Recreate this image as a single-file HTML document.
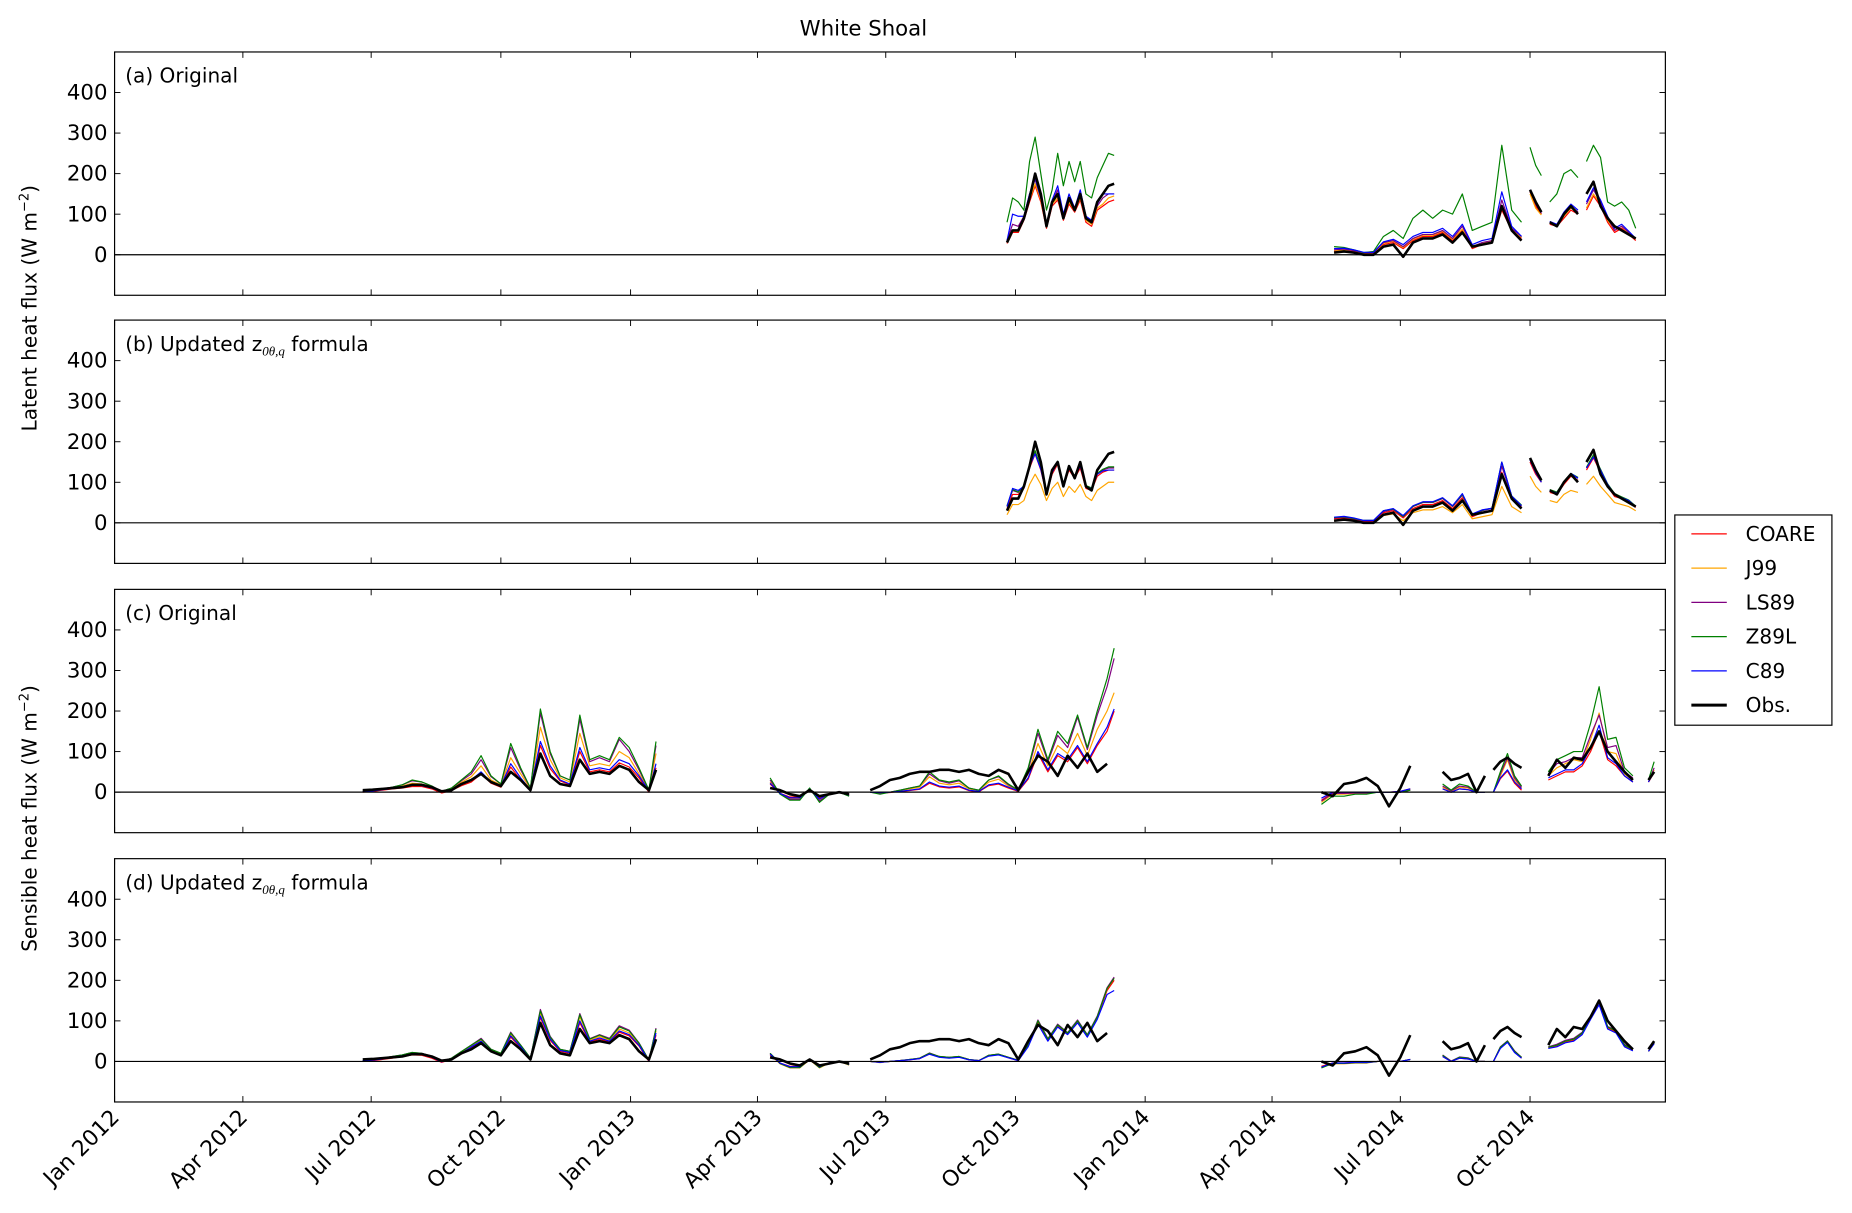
<!DOCTYPE html>
<html><head><meta charset="utf-8"><style>
html,body{margin:0;padding:0;background:#fff;}
svg{display:block;font-family:"DejaVu Sans","Liberation Sans",sans-serif;}
</style></head><body>
<svg id="chart" width="1852" height="1213" viewBox="0 0 1568 1027" xmlns="http://www.w3.org/2000/svg">
<text x="731" y="30" font-size="18" text-anchor="middle">White Shoal</text>
<text transform="translate(31,261) rotate(-90)" font-size="17" text-anchor="middle">Latent heat flux (W m<tspan font-size="11" dy="-7">−2</tspan><tspan dy="7">)</tspan></text>
<text transform="translate(31,693) rotate(-90)" font-size="17" text-anchor="middle">Sensible heat flux (W m<tspan font-size="11" dy="-7">−2</tspan><tspan dy="7">)</tspan></text>
<g id="panels"></g>
<g>
<rect x="1418" y="436" width="133" height="178" fill="#fff" stroke="#000" stroke-width="1"/>
<g id="legend-items"></g>
</g>
</svg>
<script>
const monthTickDays = [0,91,182,274,366,456,547,639,731,821,912,1004];
const monthTickLabels = ["Jan 2012","Apr 2012","Jul 2012","Oct 2012","Jan 2013","Apr 2013","Jul 2013","Oct 2013","Jan 2014","Apr 2014","Jul 2014","Oct 2014"];
const yTicks = [0,100,200,300,400];
const seriesNames = ["COARE","J99","LS89","Z89L","C89","Obs."];
const seriesColors = ["#ff0000","#ffa500","#800080","#008000","#0000ff","#000000"];

const latDays = [
 [633,637,641,645,649,653,657,661,665,669,673,677,681,685,689,693,697,701,705,709],
 [865,872,879,886,893,900,907,914,921,928,935,942,949,956,963,970,977,984,991,998],
 [1004,1008,1012],
 [1018,1023,1028,1033,1038],
 [1044,1049,1054,1059,1064,1069,1074,1079]
];
const obsLat = [
 [30,60,60,90,140,200,150,70,130,150,90,140,110,150,90,80,130,150,170,175],
 [5,8,5,0,0,20,25,-5,30,40,40,50,30,55,20,25,30,120,60,35],
 [160,130,105],
 [80,70,100,120,100],
 [150,180,120,90,70,60,50,40]
];
const coareLatA = [
 [28,55,55,85,130,170,130,65,120,135,85,125,105,135,80,70,110,120,130,135],
 [8,10,8,3,3,25,30,15,35,45,45,55,35,60,15,25,30,110,60,40],
 [155,120,100],[75,70,90,110,100],[110,145,120,80,55,65,50,35]
];
const j99LatA = [
 [30,58,58,88,135,175,135,68,125,140,88,130,108,140,85,75,115,125,140,145],
 [10,12,10,5,5,28,33,18,38,48,48,58,38,63,18,28,33,115,63,43],
 [150,115,98],[78,72,95,115,105],[115,150,125,85,60,70,52,38]
];
const ls89LatA = [
 [35,75,70,95,150,185,140,75,130,160,95,140,110,150,90,80,120,140,150,150],
 [12,14,10,5,5,30,35,20,40,50,50,60,40,70,20,30,35,135,65,45],
 [160,125,102],[80,72,100,120,105],[125,160,130,90,60,70,55,40]
];
const z89lLatA = [
 [80,140,130,110,230,290,200,110,160,250,170,230,180,230,150,140,190,220,250,245],
 [20,18,12,5,8,45,60,40,90,110,90,110,100,150,60,70,80,270,110,80],
 [265,220,195],[130,150,200,210,190],[230,270,240,130,120,130,110,65]
];
const c89LatA = [
 [35,100,95,95,150,190,140,75,135,170,100,150,115,160,95,85,125,150,150,150],
 [15,16,12,6,6,32,38,25,45,55,55,65,45,75,25,35,40,155,70,45],
 [160,128,105],[82,75,105,125,110],[130,165,135,95,65,75,58,40]
];
const coareLatB = [
 [35,70,70,85,135,170,130,70,120,145,90,130,110,135,85,80,115,125,130,130],
 [10,12,8,3,3,25,30,12,35,45,45,55,35,62,15,25,30,125,60,40],
 [150,120,100],[75,70,95,115,105],[130,160,125,90,65,60,52,38]
];
const j99LatB = [
 [20,45,45,55,95,120,95,55,85,100,65,90,75,95,65,55,80,90,100,100],
 [5,8,5,0,0,18,22,5,25,32,32,40,25,45,10,15,20,90,40,25],
 [115,90,75],[55,50,70,80,75],[95,115,90,70,50,45,40,30]
];
const ls89LatB = [
 [40,80,75,90,140,175,135,72,125,150,95,135,115,140,90,85,120,130,135,135],
 [12,14,10,5,5,28,33,15,40,50,50,60,40,68,20,30,35,140,65,42],
 [155,125,102],[80,75,100,120,110],[135,165,130,95,70,62,55,40]
];
const z89lLatB = [
 [42,82,76,92,142,178,136,74,127,152,96,136,116,142,92,86,122,132,138,138],
 [13,15,11,6,6,30,34,16,41,51,51,61,41,70,21,31,36,150,66,44],
 [158,126,104],[82,76,102,122,112],[137,168,132,96,72,64,56,41]
];
const c89LatB = [
 [40,85,80,90,140,170,132,72,124,150,95,134,114,140,90,84,120,128,130,130],
 [14,16,12,6,6,30,35,18,42,52,52,62,42,72,22,32,36,150,66,42],
 [155,124,100],[80,74,100,122,110],[135,162,130,95,70,62,55,40]
];

const sensDays = [
 [176,183,190,197,204,211,218,225,232,239,246,253,260,267,274,281,288,295,302,309,316,323,330,337,344,351,358,365,372,379,384],
 [465,472,479,486,493,500,507,514,521],
 [536,543,550,557,564,571,578,585,592,599,606,613,620,627,634,641,648,655,662,669,676,683,690,697,704,709],
 [856,864,872,880,888,896,904,912,919],
 [942,948,954,960,966,972],
 [978,983,988,993,998],
 [1017,1023,1029,1035,1041,1047,1053,1059,1065,1071,1077],
 [1088,1092]
];
const obsSens = [
 [5,6,8,10,12,18,18,12,2,5,20,30,45,25,15,50,30,5,95,40,20,15,80,45,50,45,65,55,25,5,55],
 [10,5,-5,-10,5,-10,-5,0,-5],
 [5,15,30,35,45,50,50,55,55,50,55,45,40,55,45,5,50,90,75,40,90,60,95,50,70,null],
 [0,-10,20,25,35,15,-35,10,65],
 [50,30,35,45,0,40],
 [55,75,85,70,60],
 [40,80,60,85,80,110,150,100,75,50,30],
 [30,50]
];
const coareSensC = [
 [0,2,5,8,10,14,14,8,-2,4,16,25,45,22,12,62,30,4,115,58,28,18,100,50,55,50,72,62,35,0,60],
 [20,-3,-12,-12,6,-15,-3,0,-6],
 [0,-2,-1,2,4,7,22,13,10,13,4,1,16,20,10,2,32,95,50,90,75,110,70,115,150,200],
 [-20,-2,0,0,0,0,0,2,8],
 [8,0,8,6,0,0],
 [0,33,52,22,5],
 [30,40,50,50,65,100,150,80,65,40,25],
 [25,48]
];
const j99SensC = [
 [2,4,7,10,15,22,20,12,2,8,24,38,65,30,18,85,45,8,160,80,35,25,145,65,70,65,100,85,45,5,95],
 [25,-4,-16,-16,8,-20,-4,0,-8],
 [0,-2,0,4,8,12,38,22,18,22,8,4,25,32,15,5,45,120,65,115,95,145,90,155,200,245],
 [-25,-5,-5,-3,-3,0,0,0,6],
 [12,2,12,10,0,0],
 [0,40,80,30,10],
 [40,60,70,80,75,130,195,100,95,45,30],
 [25,55]
];
const ls89SensC = [
 [2,5,8,12,18,28,25,15,2,10,28,45,80,38,20,110,55,10,195,95,40,30,180,75,85,75,130,100,55,5,115],
 [30,-4,-18,-18,9,-22,-5,0,-9],
 [0,-3,0,5,10,15,45,28,22,28,10,5,30,38,18,5,55,145,75,140,110,185,105,190,260,330],
 [-22,-3,-3,-2,-2,0,0,0,5],
 [15,3,15,12,0,0],
 [0,45,85,35,12],
 [45,70,75,85,85,140,190,110,115,50,35],
 [25,60]
];
const z89lSensC = [
 [2,5,8,12,18,30,25,15,2,10,30,50,90,40,20,120,60,10,205,100,40,30,190,80,90,80,135,110,60,5,125],
 [35,-5,-20,-20,10,-25,-5,0,-10],
 [0,-5,0,5,10,15,50,30,25,30,10,5,30,40,20,5,60,155,80,150,120,190,110,200,280,355],
 [-30,-10,-10,-5,-5,0,0,0,5],
 [20,5,20,15,0,0],
 [0,50,95,40,15],
 [50,80,90,100,100,170,260,130,135,60,40],
 [30,75]
];
const c89SensC = [
 [1,3,6,9,12,18,16,10,1,6,20,30,50,25,15,70,35,6,125,65,30,20,110,55,60,55,80,70,40,3,70],
 [22,-3,-14,-14,7,-17,-4,0,-7],
 [0,-1,0,2,5,8,25,15,12,15,5,2,18,22,12,3,35,100,55,95,80,115,75,120,160,205],
 [-15,0,0,0,0,0,0,2,8],
 [8,0,8,6,0,0],
 [0,35,55,25,8],
 [35,45,55,55,70,110,165,85,70,40,25],
 [25,50]
];
const coareSensD = [
 [0,2,5,8,12,16,15,8,-2,5,18,34,48,25,15,60,34,5,108,52,25,20,95,48,55,48,72,63,38,0,65],
 [15,-4,-12,-12,4,-12,-3,0,-6],
 [0,-2,0,2,4,7,18,11,9,11,4,2,14,17,9,2,38,95,52,88,68,98,62,108,175,200],
 [-12,-4,-4,-2,-2,0,0,0,5],
 [12,0,8,6,0,0],
 [0,33,48,23,8],
 [33,38,48,52,68,108,148,83,73,38,28],
 [25,45]
];
const j99SensD = [
 [2,4,7,11,15,20,18,11,0,7,22,38,52,28,18,66,38,7,120,57,28,23,110,52,62,52,80,70,42,3,75],
 [18,-6,-16,-16,4,-16,-4,0,-9],
 [0,-3,0,2,5,8,20,12,10,12,5,2,15,18,10,3,40,100,55,90,70,100,65,110,180,205],
 [-15,-6,-6,-4,-4,0,0,0,5],
 [15,0,10,8,0,0],
 [0,35,50,25,10],
 [35,40,50,55,70,110,150,85,75,40,30],
 [25,45]
];
const ls89SensD = [
 [2,5,8,12,16,22,20,12,0,8,24,40,57,30,20,72,40,8,128,62,30,25,118,56,66,57,88,77,46,3,82],
 [20,-5,-15,-15,5,-15,-3,0,-8],
 [0,-2,0,2,5,8,21,12,10,12,5,2,15,18,10,3,41,102,56,92,71,102,66,112,182,208],
 [-15,-5,-5,-3,-3,0,0,0,5],
 [16,1,11,9,0,0],
 [0,36,51,26,10],
 [36,42,52,57,72,112,152,86,77,42,31],
 [25,46]
];
const z89lSensD = [
 [2,5,8,12,16,22,20,12,0,8,24,40,55,30,20,70,40,8,125,60,30,25,115,55,65,55,85,75,45,3,80],
 [20,-5,-15,-15,5,-15,-3,0,-8],
 [0,-2,0,2,5,8,20,12,10,12,5,2,15,18,10,3,40,100,55,90,70,100,65,110,180,205],
 [-16,-5,-5,-3,-3,0,0,0,5],
 [15,0,10,8,0,0],
 [0,35,50,25,10],
 [35,40,50,55,70,110,150,85,75,40,30],
 [25,45]
];
const c89SensD = [
 [1,3,6,10,14,18,17,10,-1,6,20,36,50,26,16,63,36,6,112,55,27,22,100,50,58,50,75,66,40,2,70],
 [18,-4,-13,-13,5,-13,-3,0,-7],
 [0,-2,0,2,4,7,18,10,8,10,4,2,13,16,9,2,36,92,50,85,66,95,60,104,165,175],
 [-14,-4,-4,-2,-2,0,0,0,5],
 [12,0,8,6,0,0],
 [0,32,47,22,8],
 [32,36,46,50,66,104,140,80,70,36,26],
 [25,44]
];

const panelTops = [44,271,499,727];
const panelLabels = ["(a) Original","(b) Updated z","(c) Original","(d) Updated z"];
const PL = 97, PR = 1410, PH = 206, YMIN = -100, YMAX = 500, DMAX = 1100;
const NS = "http://www.w3.org/2000/svg";
function xScale(day){ return PL + day*(PR-PL)/DMAX; }
function yScale(top, v){ return top + (YMAX - v)*PH/(YMAX-YMIN); }
function mk(tag, attrs, parent){
  const e = document.createElementNS(NS, tag);
  for (const k in attrs) e.setAttribute(k, attrs[k]);
  parent.appendChild(e); return e;
}
const panelsG = document.getElementById('panels');
const panelSeries = [
 {days: latDays, series:[coareLatA,j99LatA,ls89LatA,z89lLatA,c89LatA,obsLat]},
 {days: latDays, series:[coareLatB,j99LatB,ls89LatB,z89lLatB,c89LatB,obsLat]},
 {days: sensDays, series:[coareSensC,j99SensC,ls89SensC,z89lSensC,c89SensC,obsSens]},
 {days: sensDays, series:[coareSensD,j99SensD,ls89SensD,z89lSensD,c89SensD,obsSens]}
];
const panelNames = ["panel-a-latent-original","panel-b-latent-updated","panel-c-sensible-original","panel-d-sensible-updated"];
panelTops.forEach((top, p) => {
  const g = mk('g', {}, panelsG);
  
  
  const ps = panelSeries[p];
  ps.series.forEach((ser, s) => {
    const sg = mk('g', {}, g);
    
    
    ps.days.forEach((segDays, k) => {
      const vals = ser[k] || [];
      let d = '', pen = false;
      const n = Math.min(segDays.length, vals.length);
      for (let i=0;i<n;i++){
        const v = vals[i];
        if (v === null || v === undefined){ pen = false; continue; }
        d += (pen ? 'L' : 'M') + xScale(segDays[i]).toFixed(1) + ' ' + yScale(top, v).toFixed(1);
        pen = true;
      }
      if (d){
        const path = mk('path', {d: d, fill:'none', stroke: seriesColors[s], 'stroke-width': s===5 ? 2.2 : 1, 'stroke-linejoin':'round'}, sg);
        
        
      }
    });
  });
  const zl = mk('line', {x1:PL, x2:PR, y1:yScale(top,0), y2:yScale(top,0), stroke:'#000', 'stroke-width':1}, g);
  
  
  const fr = mk('rect', {x:PL, y:top, width:PR-PL, height:PH, fill:'none', stroke:'#000', 'stroke-width':1}, g);
  
  
  yTicks.forEach(t => {
    const y = yScale(top, t);
    mk('line', {x1:PL, x2:PL+5, y1:y, y2:y, stroke:'#000', 'stroke-width':0.8}, g);
    mk('line', {x1:PR-5, x2:PR, y1:y, y2:y, stroke:'#000', 'stroke-width':0.8}, g);
    const tl = mk('text', {x:PL-6, y:y+6, 'font-size':18, 'text-anchor':'end'}, g);
    tl.textContent = String(t);
    
    
  });
  monthTickDays.forEach((dd, i) => {
    const x = xScale(dd);
    mk('line', {x1:x, x2:x, y1:top, y2:top+5, stroke:'#000', 'stroke-width':0.8}, g);
    mk('line', {x1:x, x2:x, y1:top+PH-5, y2:top+PH, stroke:'#000', 'stroke-width':0.8}, g);
    if (p === 3){
      const xl = mk('text', {x:x+5, y:top+PH+14, 'font-size':18.5, 'text-anchor':'end', transform:'rotate(-45 '+(x+5)+' '+(top+PH+14)+')'}, g);
      xl.textContent = monthTickLabels[i];
      
      
    }
  });
  const lab = mk('text', {x:106, y:top+26, 'font-size':17}, g);
  
  
  lab.appendChild(document.createTextNode(panelLabels[p]));
  if (p===1 || p===3){
    const sub = mk('tspan', {'font-size':11, dy:4, 'font-style':'italic', 'font-family':'"Liberation Serif",serif'}, lab);
    sub.textContent = '0θ,q';
    const rest = mk('tspan', {dy:-4}, lab);
    rest.textContent = ' formula';
  }
});
const lg = document.getElementById('legend-items');
seriesNames.forEach((nm, i) => {
  const y = 452 + i*29;
  const it = mk('g', {}, lg);
  
  
  mk('line', {x1:1432, x2:1462, y1:y, y2:y, stroke:seriesColors[i], 'stroke-width': i===5 ? 2.5 : 1}, it);
  const t = mk('text', {x:1478, y:y+6, 'font-size':17}, it);
  t.textContent = nm;
});
</script>
</body></html>
